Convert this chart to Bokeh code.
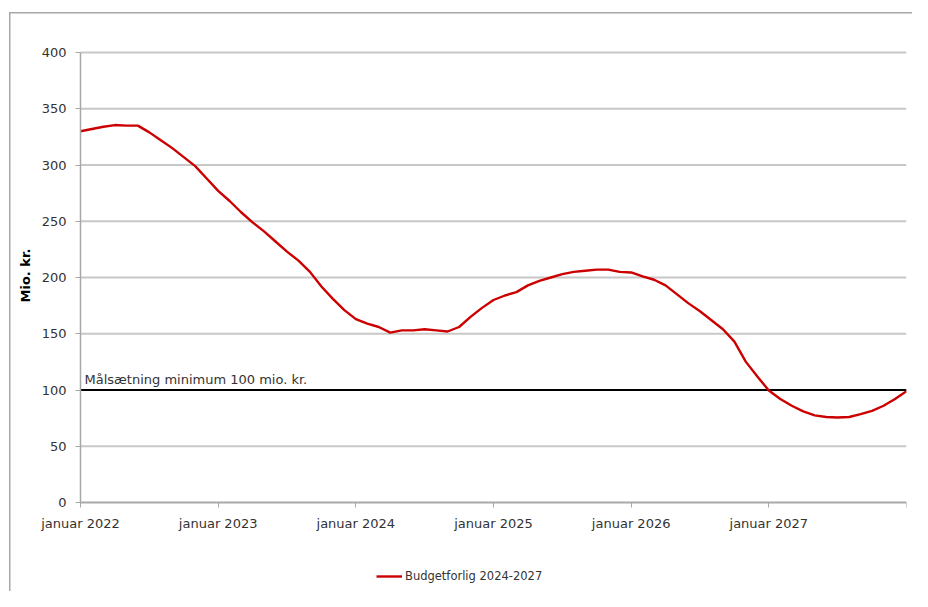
import math
from bokeh.plotting import figure
from bokeh.models import (Range1d, FixedTicker, Label, Legend, LegendItem,
                          ColumnDataSource)
from bokeh.embed import file_html
from bokeh.resources import INLINE

# ---- data (monthly, januar 2022 .. januar 2028) ----
years = [2022, 2023, 2024, 2025, 2026, 2027, 2028]
tick_labels = ["januar 2022", "januar 2023", "januar 2024", "januar 2025",
               "januar 2026", "januar 2027", ""]
series_name = "Budgetforlig 2024-2027"
values = [
    330, 332, 334, 335.5, 335, 335, 329, 322, 315, 307, 299, 288,   # 2022
    277, 268, 258, 249, 241, 232, 223, 215, 205, 192, 181, 171,     # 2023
    163, 159, 156, 151, 153, 153, 154, 153, 152, 156, 165, 173,     # 2024
    180, 184, 187, 193, 197, 200, 203, 205, 206, 207, 207, 205,     # 2025
    204.5, 201, 198, 193, 185, 177, 170, 162, 154, 143, 125, 112,   # 2026
    99.5, 92, 86, 81, 77.5, 76, 75.5, 76, 78.5, 81.5, 86, 92,       # 2027
    99,                                                             # jan 2028
]
target_value = 100
target_text = "Målsætning minimum 100 mio. kr."
y_label = "Mio. kr."
y_ticks = [0, 50, 100, 150, 200, 250, 300, 350, 400]
y_min, y_max = 0, 400

month_index = list(range(len(values)))
tick_pos = [(y - years[0]) * 12 for y in years]
x_min, x_max = tick_pos[0], tick_pos[-1]

FONT = "DejaVu Sans"
TXT = "#333333"
FRAME_LINE = "#a8a8a8"
GRID = "#c8c8c8"

# layout (pixels)
W, H = 912, 591
VALUE_TOP, HEADROOM, RIGHT, FRAME_LEFT = 52, 10, 6, 16
AXIS_X, PLOT_W, PLOT_H = 80, 826, 450        # value area: x 80..906, y 52..502
px_x = PLOT_W / (x_max - x_min)
px_y = PLOT_H / (y_max - y_min)
extra_left = (AXIS_X - FRAME_LEFT) / px_x
extra_below = (H - VALUE_TOP - PLOT_H) / px_y
extra_above = HEADROOM / px_y

p = figure(width=W, height=H, output_backend="svg", toolbar_location=None,
           x_range=Range1d(x_min - extra_left, x_max),
           y_range=Range1d(y_min - extra_below, y_max + extra_above),
           min_border_left=FRAME_LEFT, min_border_top=VALUE_TOP - HEADROOM,
           min_border_right=RIGHT, min_border_bottom=0)
p.outline_line_color = None
p.background_fill_color = "white"
p.border_fill_alpha = 0
p.styles = {
    "background":
        f"linear-gradient({FRAME_LINE},{FRAME_LINE}) 9px 12px / 1.5px 100% no-repeat, "
        f"linear-gradient({FRAME_LINE},{FRAME_LINE}) 9px 12px / 100% 1.5px no-repeat, white",
}

# grid lines (limited to the value area)
p.xgrid.visible = False
p.ygrid.visible = False
p.segment(x0=[x_min] * len(y_ticks), x1=[x_max] * len(y_ticks),
          y0=y_ticks, y1=y_ticks, line_color=GRID, line_width=2)

# axes, fixed at the data origin
p.yaxis.ticker = FixedTicker(ticks=y_ticks)
p.yaxis.bounds = (y_min, y_max)
p.yaxis.fixed_location = x_min
p.xaxis.ticker = FixedTicker(ticks=tick_pos)
p.xaxis.bounds = (x_min, x_max)
p.xaxis.fixed_location = y_min
p.xaxis.major_label_overrides = {t: l for t, l in zip(tick_pos, tick_labels)}
for ax in (p.xaxis[0], p.yaxis[0]):
    ax.axis_line_color = FRAME_LINE
    ax.axis_line_width = 1.5
    ax.major_tick_line_color = FRAME_LINE
    ax.major_tick_in = 0
    ax.major_tick_out = 5
    ax.minor_tick_line_color = None
    ax.major_label_text_font = FONT
    ax.major_label_text_font_size = "13px"
    ax.major_label_text_color = TXT
p.yaxis.major_label_standoff = 9
p.xaxis.major_label_standoff = 8

# y axis title
p.add_layout(Label(x=x_min - (AXIS_X - 25) / px_x, y=(502 - 275) / px_y,
                   text=y_label, angle=math.pi / 2, text_align="center",
                   text_baseline="middle", text_font=FONT,
                   text_font_size="13px", text_font_style="bold",
                   text_color="#000000"))

# target line
p.segment(x0=[x_min], x1=[x_max], y0=[target_value], y1=[target_value],
          line_color="#000000", line_width=2)
p.add_layout(Label(x=x_min, y=target_value, x_offset=4, y_offset=3,
                   text=target_text, text_font=FONT, text_font_size="13px",
                   text_color=TXT, text_baseline="bottom"))

# series
src = ColumnDataSource(dict(x=month_index, y=values))
r = p.line("x", "y", source=src, line_color="#cc0000", line_width=2.4)

legend = Legend(items=[LegendItem(label=series_name, renderers=[r])],
                location=(376 - FRAME_LEFT, 5), orientation="horizontal",
                border_line_color=None, background_fill_alpha=0,
                padding=0, margin=0, glyph_width=26, glyph_height=20,
                label_standoff=3, label_text_font=FONT,
                label_text_font_size="11.5px", label_text_color=TXT)
p.add_layout(legend, "center")

open("out.html", "w").write(file_html(p, INLINE))
